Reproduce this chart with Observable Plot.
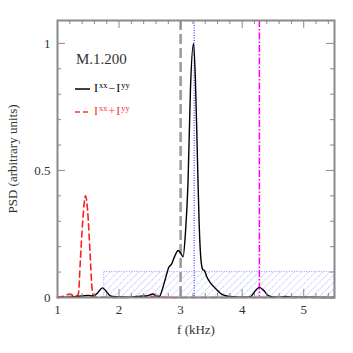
<!DOCTYPE html>
<html><head><meta charset="utf-8">
<script src="https://cdn.jsdelivr.net/npm/d3@7"></script>
<script src="https://cdn.jsdelivr.net/npm/@observablehq/plot@0.6"></script>
<style>body{margin:0;background:#fff;} svg{display:block;}</style>
</head><body><div id="chart"></div>
<script>
// I^xx - I^yy (black solid)
const fBlack = [1.00,1.10,1.20,1.30,1.40,1.50,1.58,1.65,1.73,1.80,1.86,1.95,2.05,2.15,2.25,2.35,2.45,2.55,2.61,2.66,2.70,2.76,2.81,2.85,2.90,2.96,3.00,3.04,3.08,3.12,3.16,3.21,3.24,3.27,3.30,3.33,3.36,3.39,3.42,3.46,3.52,3.58,3.64,3.70,3.80,3.90,4.00,4.10,4.15,4.20,4.28,4.35,4.42,4.50,4.60,4.70,4.78,4.90,5.10,5.50];
const psdBlack = [0.000,0.001,0.002,0.004,0.006,0.008,0.006,0.018,0.038,0.022,0.006,0.003,0.002,0.001,0.003,0.005,0.006,0.014,0.005,0.005,0.030,0.080,0.120,0.130,0.160,0.185,0.175,0.160,0.260,0.450,0.820,1.000,0.860,0.580,0.300,0.150,0.110,0.105,0.085,0.066,0.047,0.032,0.018,0.009,0.004,0.002,0.001,0.001,0.006,0.022,0.040,0.028,0.008,0.002,0.001,0.004,0.002,0.001,0.001,0.000];
// I^xx + I^yy (red dashed)
const fRed = [1.00,1.08,1.15,1.20,1.25,1.30,1.34,1.37,1.41,1.455,1.49,1.53,1.56,1.59,1.65,1.80,2.00,2.30,2.45,2.55,2.70,3.00,4.00,5.50];
const psdRed = [0.002,0.004,0.010,0.014,0.008,0.004,0.015,0.140,0.300,0.400,0.340,0.170,0.040,0.004,0.001,0.001,0.000,0.002,0.006,0.004,0.001,0.000,0.000,0.000];

const xMajorTicks = [1,2,3,4,5];
const xMinorTicks = [1.2,1.4,1.6,1.8,2.2,2.4,2.6,2.8,3.2,3.4,3.6,3.8,4.2,4.4,4.6,4.8,5.2,5.4];
const yMajorTicks = [0,0.5,1];
const yMinorTicks = [0.1,0.2,0.3,0.4,0.6,0.7,0.8,0.9];

const grayLineF = [3.0];
const blueLineF = [3.22];
const magentaLineF = [4.28];
const hatchBand = [{f1:1.76, f2:5.5, p1:0, p2:0.1}];

const modelName = "M.1.200";
const legendLabels = ["−", "+"];

const black = fBlack.map((f,i)=>({f, p: psdBlack[i]}));
const red = fRed.map((f,i)=>({f, p: psdRed[i]}));

const W = 353, H = 353, mL = 57, mR = 19, mT = 20, mB = 56;
const pw = W - mL - mR, ph = H - mT - mB;
const tickCol = "#8a8a8a";

const svg = Plot.plot({
  width: W, height: H,
  marginLeft: mL, marginRight: mR, marginTop: mT, marginBottom: mB,
  style: {fontFamily: "'Liberation Serif', serif", fontSize: "13px", background: "#fff", color: "#333"},
  x: {domain: [1, 5.5]},
  y: {domain: [0, 1.09]},
  marks: [
    Plot.rect(hatchBand, {x1:"f1", x2:"f2", y1:"p1", y2:"p2", fill:"url(#hatch)", stroke:"#9098ff", strokeWidth:1, strokeDasharray:"1,1.5"}),
    Plot.ruleX(grayLineF, {stroke:"#9a9a9a", strokeWidth:2.5, strokeDasharray:"10,4"}),
    Plot.ruleX(blueLineF, {stroke:"#2020ff", strokeWidth:1, strokeDasharray:"1,1.5"}),
    Plot.ruleX(magentaLineF, {stroke:"#ff00ff", strokeWidth:1.5, strokeDasharray:"7,2,1.5,2"}),
    Plot.line(red, {x:"f", y:"p", stroke:"#ff2020", strokeWidth:1.6, strokeDasharray:"6,4", curve:"monotone-x"}),
    Plot.line(black, {x:"f", y:"p", stroke:"#000", strokeWidth:1.4, curve:"monotone-x"}),
    // inward ticks
    Plot.tickX(xMinorTicks, {x:d=>d, insetTop: ph-4, stroke:tickCol}),
    Plot.tickX(xMajorTicks, {x:d=>d, insetTop: ph-8, stroke:tickCol}),
    Plot.tickX(xMinorTicks, {x:d=>d, insetBottom: ph-4, stroke:tickCol}),
    Plot.tickX(xMajorTicks, {x:d=>d, insetBottom: ph-8, stroke:tickCol}),
    Plot.tickY(yMinorTicks, {y:d=>d, insetRight: pw-4, stroke:tickCol}),
    Plot.tickY(yMajorTicks, {y:d=>d, insetRight: pw-8, stroke:tickCol}),
    Plot.tickY(yMinorTicks, {y:d=>d, insetLeft: pw-4, stroke:tickCol}),
    Plot.tickY(yMajorTicks, {y:d=>d, insetLeft: pw-8, stroke:tickCol}),
    Plot.frame({stroke:"#8a8a8a", strokeWidth:2}),
    Plot.axisX({ticks: xMajorTicks, tickSize: 0, tickPadding: 7, tickFormat: d3.format(""), label: "f (kHz)", labelAnchor: "center", labelOffset: 36, labelArrow: "none"}),
    Plot.axisY({ticks: yMajorTicks, tickSize: 0, tickPadding: 7, tickFormat: d3.format(""), label: "PSD (arbitrary units)", labelAnchor: "center", labelOffset: 50, labelArrow: "none"})
  ]
});

const s = d3.select(svg);
const defs = s.insert("defs", ":first-child");
const pat = defs.append("pattern").attr("id","hatch").attr("patternUnits","userSpaceOnUse")
  .attr("width",5).attr("height",5).attr("patternTransform","rotate(45)");
pat.append("line").attr("x1",0).attr("y1",0).attr("x2",0).attr("y2",5)
  .attr("stroke","#8c94ff").attr("stroke-width",0.9).attr("stroke-dasharray","1.2,0.8");

// model label and legend
const g = s.append("g").attr("font-family","'Liberation Serif', serif").attr("text-anchor","start");
g.append("text").attr("x",76).attr("y",64).attr("font-size",15).attr("fill","#333").text(modelName);
function legendEntry(y, color, dash, op) {
  g.append("line").attr("x1",75).attr("x2",90).attr("y1",y).attr("y2",y)
    .attr("stroke",color).attr("stroke-width",1.5).attr("stroke-dasharray",dash);
  const t = g.append("text").attr("x",94).attr("y",y+3).attr("font-size",12).attr("fill",color);
  t.append("tspan").text("I");
  t.append("tspan").attr("font-size",8.5).attr("dy",-4).attr("dx",1).text("xx");
  t.append("tspan").attr("dy",4).attr("dx",1).text(op);
  t.append("tspan").attr("dx",1).text("I");
  t.append("tspan").attr("font-size",8.5).attr("dy",-4).attr("dx",1).text("yy");
}
legendEntry(89, "#000", null, legendLabels[0]);
legendEntry(112, "#ff3030", "5,3", legendLabels[1]);

document.getElementById("chart").appendChild(svg);
</script>
</body></html>
